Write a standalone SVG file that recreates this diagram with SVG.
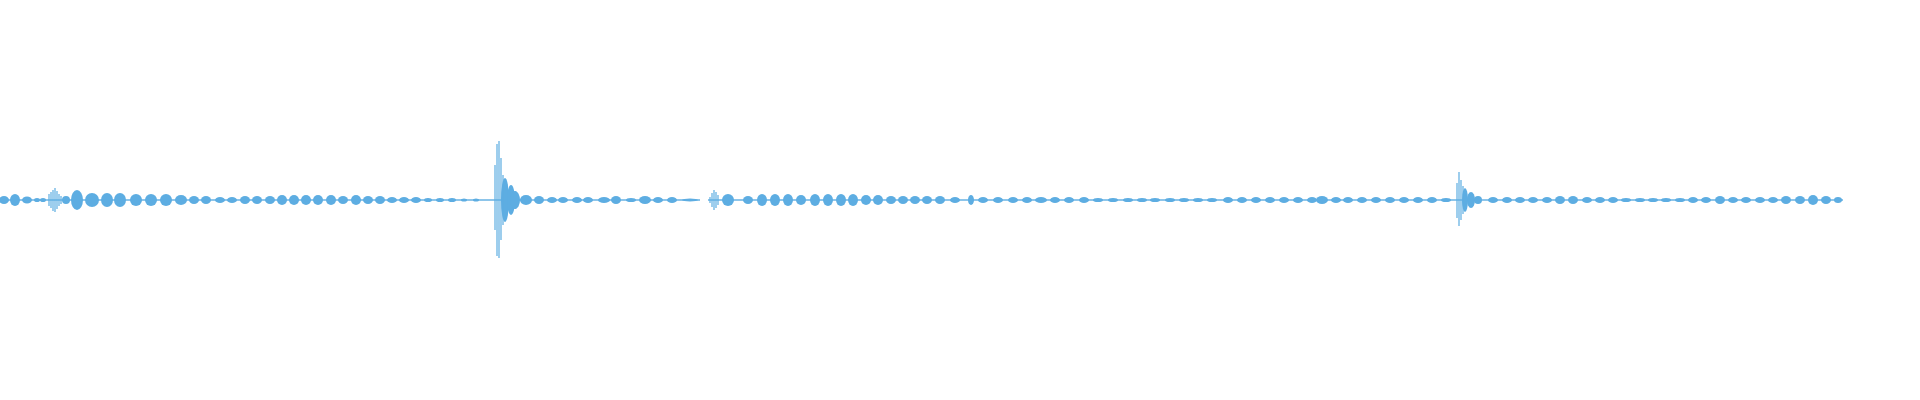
<svg xmlns="http://www.w3.org/2000/svg" width="1920" height="400" viewBox="0 0 1920 400">
<style>.w{fill:#5dade2}.s{stroke:#5dade2;stroke-width:1.2;fill:none}</style>
<rect width="1920" height="400" fill="#fff"/>
<g id="waveform">
<rect class="w" x="0" y="199.3" width="700" height="1.4"/>
<rect class="w" x="708" y="199.3" width="1135" height="1.4"/>
<g class="w">
<ellipse cx="4" cy="200" rx="5" ry="4"/><ellipse cx="15" cy="200" rx="5" ry="6"/><ellipse cx="27" cy="200" rx="5" ry="3.5"/><ellipse cx="37" cy="200" rx="3" ry="2"/><ellipse cx="43" cy="200" rx="3" ry="2"/>
<ellipse cx="66" cy="200" rx="4" ry="4"/><ellipse cx="77" cy="200" rx="6" ry="10"/><ellipse cx="92" cy="200" rx="7" ry="7"/><ellipse cx="107" cy="200" rx="6" ry="7"/><ellipse cx="120" cy="200" rx="6" ry="7"/><ellipse cx="136" cy="200" rx="6" ry="6"/><ellipse cx="151" cy="200" rx="6" ry="6"/><ellipse cx="166" cy="200" rx="6" ry="6"/><ellipse cx="181" cy="200" rx="6" ry="5"/><ellipse cx="194" cy="200" rx="5" ry="4"/><ellipse cx="206" cy="200" rx="5" ry="4"/><ellipse cx="220" cy="200" rx="5" ry="3"/><ellipse cx="232" cy="200" rx="5" ry="3"/><ellipse cx="245" cy="200" rx="5" ry="4"/><ellipse cx="257" cy="200" rx="5" ry="4"/><ellipse cx="270" cy="200" rx="5" ry="4"/><ellipse cx="282" cy="200" rx="5" ry="5"/><ellipse cx="294" cy="200" rx="5" ry="5"/><ellipse cx="306" cy="200" rx="5" ry="5"/><ellipse cx="318" cy="200" rx="5" ry="5"/><ellipse cx="331" cy="200" rx="5" ry="5"/><ellipse cx="343" cy="200" rx="5" ry="4"/><ellipse cx="356" cy="200" rx="5" ry="5"/><ellipse cx="368" cy="200" rx="5" ry="4"/><ellipse cx="380" cy="200" rx="5" ry="4"/><ellipse cx="392" cy="200" rx="5" ry="3"/><ellipse cx="404" cy="200" rx="5" ry="3"/><ellipse cx="416" cy="200" rx="5" ry="3"/><ellipse cx="428" cy="200" rx="4" ry="2"/><ellipse cx="440" cy="200" rx="4" ry="2"/><ellipse cx="452" cy="200" rx="4" ry="2"/><ellipse cx="464" cy="200" rx="3" ry="1.5"/><ellipse cx="476" cy="200" rx="3" ry="1.5"/>
<ellipse cx="505" cy="200" rx="4" ry="22"/><ellipse cx="511" cy="200" rx="4" ry="15"/><ellipse cx="515" cy="200" rx="4" ry="9"/><ellipse cx="515" cy="200" rx="5" ry="9"/><ellipse cx="526" cy="200" rx="6" ry="5"/><ellipse cx="539" cy="200" rx="5" ry="4"/><ellipse cx="552" cy="200" rx="5" ry="3"/><ellipse cx="563" cy="200" rx="5" ry="3"/><ellipse cx="577" cy="200" rx="5" ry="3"/><ellipse cx="588" cy="200" rx="5" ry="3"/><ellipse cx="604" cy="200" rx="6" ry="3"/><ellipse cx="616" cy="200" rx="5" ry="4"/><ellipse cx="631" cy="200" rx="5" ry="2"/><ellipse cx="645" cy="200" rx="6" ry="4"/><ellipse cx="658" cy="200" rx="5" ry="3"/><ellipse cx="672" cy="200" rx="5" ry="3"/><ellipse cx="690" cy="200" rx="8" ry="1.5"/>
<ellipse cx="728" cy="200" rx="6" ry="6"/><ellipse cx="748" cy="200" rx="5" ry="4"/><ellipse cx="762" cy="200" rx="5" ry="6"/><ellipse cx="775" cy="200" rx="5" ry="6"/><ellipse cx="788" cy="200" rx="5" ry="6"/><ellipse cx="801" cy="200" rx="5" ry="5"/><ellipse cx="815" cy="200" rx="5" ry="6"/><ellipse cx="828" cy="200" rx="5" ry="6"/><ellipse cx="841" cy="200" rx="5" ry="6"/><ellipse cx="853" cy="200" rx="5" ry="6"/><ellipse cx="866" cy="200" rx="5" ry="5"/><ellipse cx="878" cy="200" rx="5" ry="5"/><ellipse cx="891" cy="200" rx="5" ry="4"/><ellipse cx="903" cy="200" rx="5" ry="4"/><ellipse cx="915" cy="200" rx="5" ry="4"/><ellipse cx="927" cy="200" rx="5" ry="4"/><ellipse cx="940" cy="200" rx="5" ry="4"/><ellipse cx="955" cy="200" rx="5" ry="3"/><ellipse cx="971" cy="200" rx="3" ry="5"/><ellipse cx="983" cy="200" rx="5" ry="3"/><ellipse cx="998" cy="200" rx="5" ry="3"/><ellipse cx="1013" cy="200" rx="5" ry="3"/><ellipse cx="1027" cy="200" rx="5" ry="3"/><ellipse cx="1041" cy="200" rx="6" ry="3"/><ellipse cx="1055" cy="200" rx="5" ry="3"/><ellipse cx="1069" cy="200" rx="5" ry="3"/><ellipse cx="1084" cy="200" rx="5" ry="3"/><ellipse cx="1098" cy="200" rx="5" ry="2"/><ellipse cx="1113" cy="200" rx="5" ry="2"/><ellipse cx="1128" cy="200" rx="5" ry="2"/><ellipse cx="1142" cy="200" rx="5" ry="2"/><ellipse cx="1155" cy="200" rx="5" ry="2"/><ellipse cx="1170" cy="200" rx="5" ry="2"/><ellipse cx="1184" cy="200" rx="5" ry="2"/><ellipse cx="1198" cy="200" rx="5" ry="2"/><ellipse cx="1212" cy="200" rx="5" ry="2"/><ellipse cx="1228" cy="200" rx="5" ry="3"/><ellipse cx="1242" cy="200" rx="5" ry="3"/><ellipse cx="1256" cy="200" rx="5" ry="3"/><ellipse cx="1270" cy="200" rx="5" ry="3"/><ellipse cx="1284" cy="200" rx="5" ry="3"/><ellipse cx="1298" cy="200" rx="5" ry="3"/><ellipse cx="1312" cy="200" rx="5" ry="3"/><ellipse cx="1322" cy="200" rx="6" ry="4"/><ellipse cx="1336" cy="200" rx="5" ry="3"/><ellipse cx="1348" cy="200" rx="5" ry="3"/><ellipse cx="1362" cy="200" rx="5" ry="3"/><ellipse cx="1376" cy="200" rx="5" ry="3"/><ellipse cx="1390" cy="200" rx="5" ry="3"/><ellipse cx="1404" cy="200" rx="5" ry="3"/><ellipse cx="1418" cy="200" rx="5" ry="3"/><ellipse cx="1432" cy="200" rx="5" ry="3"/><ellipse cx="1446" cy="200" rx="5" ry="2"/>
<ellipse cx="1465" cy="200" rx="3" ry="12"/><ellipse cx="1471" cy="200" rx="4" ry="8"/><ellipse cx="1478" cy="200" rx="4" ry="4"/><ellipse cx="1493" cy="200" rx="5" ry="3"/><ellipse cx="1507" cy="200" rx="5" ry="3"/><ellipse cx="1520" cy="200" rx="5" ry="3"/><ellipse cx="1533" cy="200" rx="5" ry="3"/><ellipse cx="1547" cy="200" rx="5" ry="3"/><ellipse cx="1560" cy="200" rx="5" ry="4"/><ellipse cx="1573" cy="200" rx="5" ry="4"/><ellipse cx="1587" cy="200" rx="5" ry="3"/><ellipse cx="1600" cy="200" rx="5" ry="3"/><ellipse cx="1613" cy="200" rx="5" ry="3"/><ellipse cx="1626" cy="200" rx="5" ry="2"/><ellipse cx="1640" cy="200" rx="5" ry="2"/><ellipse cx="1653" cy="200" rx="5" ry="2"/><ellipse cx="1666" cy="200" rx="5" ry="2"/><ellipse cx="1680" cy="200" rx="5" ry="2"/><ellipse cx="1693" cy="200" rx="5" ry="3"/><ellipse cx="1706" cy="200" rx="5" ry="3"/><ellipse cx="1720" cy="200" rx="5" ry="4"/><ellipse cx="1733" cy="200" rx="5" ry="3"/><ellipse cx="1746" cy="200" rx="5" ry="3"/><ellipse cx="1760" cy="200" rx="5" ry="3"/><ellipse cx="1773" cy="200" rx="5" ry="3"/><ellipse cx="1786" cy="200" rx="5" ry="4"/><ellipse cx="1800" cy="200" rx="5" ry="4"/><ellipse cx="1813" cy="200" rx="5" ry="5"/><ellipse cx="1826" cy="200" rx="5" ry="4"/><ellipse cx="1838" cy="200" rx="4" ry="3"/>
</g>
<path class="s" d="M49 194V206M51 192V208M53 190V211M55 188V212M57 191V209M59 194V206M61 196V204"/>
<path class="s" d="M495 165V230M497 144V256M499 141V258M501 158V240M503 175V225M499 170V230"/>
<path class="s" d="M710 197V203M712 193V207M714 190V210M716 192V208M718 195V205"/>
<path class="s" d="M1457 183V218M1459 172V226M1461 180V220M1463 186V214"/>
</g>
</svg>
